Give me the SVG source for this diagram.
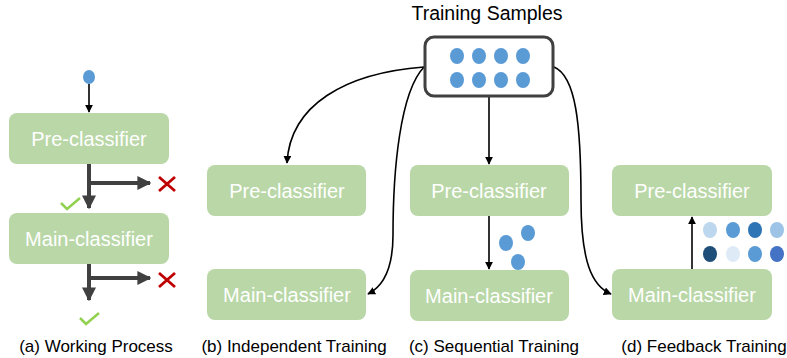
<svg xmlns="http://www.w3.org/2000/svg" width="787" height="358" viewBox="0 0 787 358">
<defs>
<style>
.box{fill:#b9d7a7;}
.lbl{font-family:"Liberation Sans",Arial,sans-serif;font-size:20px;fill:#ffffff;text-anchor:middle;dominant-baseline:central;}
.cap{font-family:"Liberation Sans",Arial,sans-serif;font-size:17px;fill:#000;text-anchor:middle;}
.thin{fill:none;stroke:#000;stroke-width:1.6;}
.thick{fill:none;stroke:#404040;stroke-width:4;}
.dot{fill:#5b9bd5;}
.chk{fill:none;stroke:#92d050;stroke-width:2.5;}
.x{fill:none;stroke:#c00000;stroke-width:2.8;}
</style>
<marker id="ah" viewBox="0 0 10 10" refX="9" refY="5" markerWidth="8" markerHeight="8" markerUnits="userSpaceOnUse" orient="auto">
<path d="M0,0 L10,5 L0,10 Z" fill="#000"/>
</marker>
<marker id="ahT" viewBox="0 0 10 10" refX="9" refY="5" markerWidth="14" markerHeight="14" markerUnits="userSpaceOnUse" orient="auto">
<path d="M0,0 L10,5 L0,10 Z" fill="#404040"/>
</marker>
</defs>
<rect width="787" height="358" fill="#fff"/>

<g id="connectors">
<!-- (a) -->
<line class="thin" x1="89" y1="84" x2="89" y2="112" marker-end="url(#ah)"/>
<line class="thick" x1="89" y1="164" x2="89" y2="208" marker-end="url(#ahT)"/>
<line class="thick" x1="89" y1="183" x2="150" y2="183" marker-end="url(#ahT)"/>
<line class="thick" x1="89" y1="264" x2="89" y2="300" marker-end="url(#ahT)"/>
<line class="thick" x1="89" y1="278" x2="150" y2="278" marker-end="url(#ahT)"/>
<!-- (b) -->
<path class="thin" d="M424,67 C345,73 290,105 287,163" marker-end="url(#ah)"/>
<path class="thin" d="M424,67 C400,92 393,170 393,235 C393,268 384,286 368,294" marker-end="url(#ah)"/>
<!-- (c) -->
<line class="thin" x1="489" y1="97" x2="489" y2="164" marker-end="url(#ah)"/>
<line class="thin" x1="489" y1="216" x2="489" y2="269" marker-end="url(#ah)"/>
<!-- (d) -->
<path class="thin" d="M554,67 C576,76 581,125 581,200 C581,262 592,286 611,294" marker-end="url(#ah)"/>
<line class="thin" x1="692" y1="269" x2="692" y2="217" marker-end="url(#ah)"/>
</g>

<g id="samples">
<text x="487" y="20" font-family="'Liberation Sans',Arial,sans-serif" font-size="19.5" text-anchor="middle" fill="#000">Training Samples</text>
<rect x="425" y="37" width="128" height="59" rx="9" fill="#fff" stroke="#404040" stroke-width="3"/>
<ellipse class="dot" cx="457" cy="56" rx="7" ry="8"/>
<ellipse class="dot" cx="479" cy="56" rx="7" ry="8"/>
<ellipse class="dot" cx="501" cy="56" rx="7" ry="8"/>
<ellipse class="dot" cx="523" cy="56" rx="7" ry="8"/>
<ellipse class="dot" cx="457" cy="80" rx="7" ry="8"/>
<ellipse class="dot" cx="479" cy="80" rx="7" ry="8"/>
<ellipse class="dot" cx="501" cy="80" rx="7" ry="8"/>
<ellipse class="dot" cx="523" cy="80" rx="7" ry="8"/>
</g>

<g id="a-input"><ellipse class="dot" cx="89" cy="77" rx="6" ry="7"/></g>
<g id="a-pre"><rect class="box" x="9" y="113" width="160" height="51" rx="8"/><text class="lbl" x="89" y="139">Pre-classifier</text></g>
<g id="a-main"><rect class="box" x="9" y="213" width="160" height="51" rx="8"/><text class="lbl" x="89" y="239">Main-classifier</text></g>
<g id="a-marks">
<path class="x" d="M159,177 L175,191 M175,177 L159,191"/>
<path class="x" d="M159,273 L175,287 M175,273 L159,287"/>
<path class="chk" d="M61,203 L67,209 L80,198"/>
<path class="chk" d="M80,318 L86,324 L99,313"/>
</g>

<g id="b-pre"><rect class="box" x="207" y="165" width="159" height="51" rx="8"/><text class="lbl" x="287" y="191">Pre-classifier</text></g>
<g id="b-main"><rect class="box" x="207" y="269" width="159" height="51" rx="8"/><text class="lbl" x="287" y="295">Main-classifier</text></g>

<g id="c-pre"><rect class="box" x="410" y="165" width="159" height="51" rx="8"/><text class="lbl" x="489" y="191">Pre-classifier</text></g>
<g id="c-main"><rect class="box" x="410" y="270" width="159" height="51" rx="8"/><text class="lbl" x="489" y="296">Main-classifier</text></g>
<g id="c-samples">
<ellipse class="dot" cx="506" cy="243" rx="7" ry="8"/>
<ellipse class="dot" cx="528" cy="233" rx="7" ry="8"/>
<ellipse class="dot" cx="518" cy="262" rx="7" ry="8"/>
</g>

<g id="d-pre"><rect class="box" x="612" y="165" width="160" height="51" rx="8"/><text class="lbl" x="692" y="191">Pre-classifier</text></g>
<g id="d-main"><rect class="box" x="612" y="269" width="160" height="51" rx="8"/><text class="lbl" x="692" y="295">Main-classifier</text></g>
<g id="d-samples">
<ellipse cx="710" cy="230" rx="7" ry="8" fill="#bdd7ee"/>
<ellipse cx="733" cy="230" rx="7" ry="8" fill="#5b9bd5"/>
<ellipse cx="755" cy="230" rx="7" ry="8" fill="#2e75b6"/>
<ellipse cx="777" cy="230" rx="7" ry="8" fill="#9dc3e6"/>
<ellipse cx="710" cy="254" rx="7" ry="8" fill="#1f4e79"/>
<ellipse cx="733" cy="254" rx="7" ry="8" fill="#deebf7"/>
<ellipse cx="755" cy="254" rx="7" ry="8" fill="#5b9bd5"/>
<ellipse cx="777" cy="254" rx="7" ry="8" fill="#4472c4"/>
</g>

<g id="captions">
<text class="cap" x="96" y="352">(a) Working Process</text>
<text class="cap" x="294" y="352">(b) Independent Training</text>
<text class="cap" x="494" y="352">(c) Sequential Training</text>
<text class="cap" x="704" y="352">(d) Feedback Training</text>
</g>
</svg>
